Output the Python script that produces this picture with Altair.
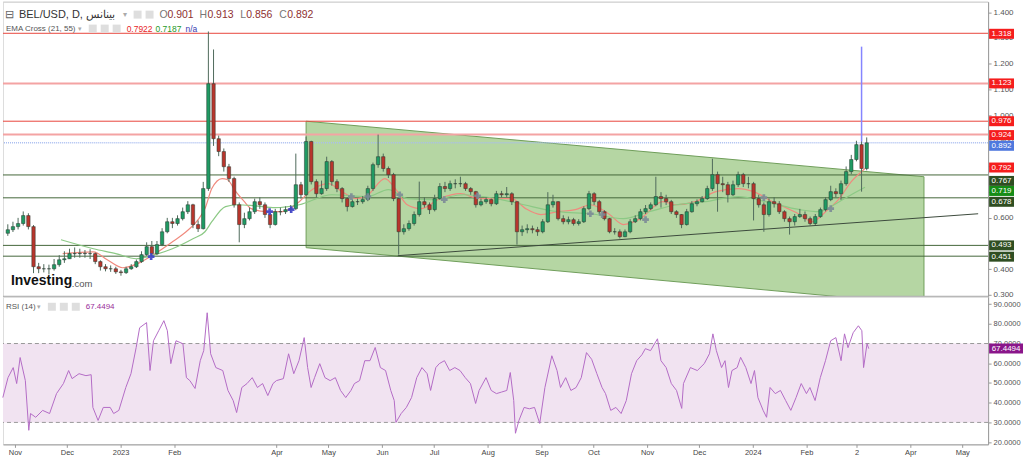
import altair as alt
import pandas as pd

FONT = "Liberation Sans"

# ---------------- data ----------------
# x positions are days counted from 2022-11-01; candles are 3-day bars
CANDLE_FIRST_DAY = -7
CANDLE_STEP_DAYS = 3
FIRST_OPEN = 0.540
closes = [0.554, 0.566, 0.578, 0.609, 0.566, 0.410, 0.402, 0.402, 0.402, 0.418,
          0.437, 0.441, 0.461, 0.461, 0.462, 0.461, 0.461, 0.430, 0.410, 0.402,
          0.402, 0.390, 0.387, 0.402, 0.410, 0.430, 0.457, 0.488, 0.461, 0.496,
          0.546, 0.585, 0.578, 0.597, 0.624, 0.651, 0.574, 0.558, 0.714, 1.122,
          0.908, 0.858, 0.799, 0.753, 0.651, 0.574, 0.597, 0.624, 0.663, 0.651,
          0.613, 0.574, 0.624, 0.624, 0.632, 0.636, 0.729, 0.690, 0.897, 0.741,
          0.694, 0.714, 0.819, 0.741, 0.714, 0.675, 0.644, 0.663, 0.663, 0.671,
          0.714, 0.807, 0.838, 0.792, 0.768, 0.675, 0.546, 0.558, 0.578, 0.613,
          0.663, 0.651, 0.632, 0.675, 0.722, 0.714, 0.733, 0.733, 0.733, 0.714,
          0.702, 0.651, 0.663, 0.671, 0.655, 0.694, 0.690, 0.694, 0.663, 0.546,
          0.554, 0.558, 0.554, 0.546, 0.585, 0.651, 0.663, 0.597, 0.585, 0.593,
          0.578, 0.585, 0.636, 0.694, 0.663, 0.624, 0.597, 0.546, 0.546, 0.527,
          0.546, 0.585, 0.597, 0.624, 0.636, 0.651, 0.683, 0.675, 0.663, 0.624,
          0.613, 0.574, 0.624, 0.655, 0.663, 0.675, 0.714, 0.768, 0.733, 0.729,
          0.690, 0.729, 0.768, 0.733, 0.733, 0.675, 0.651, 0.613, 0.663, 0.655,
          0.624, 0.597, 0.585, 0.605, 0.613, 0.597, 0.578, 0.605, 0.632, 0.671,
          0.702, 0.694, 0.733, 0.780, 0.827, 0.885, 0.792, 0.892]
highs = [0.575, 0.585, 0.600, 0.625, 0.618, 0.572, 0.425, 0.420, 0.418, 0.440,
         0.455, 0.470, 0.480, 0.485, 0.480, 0.475, 0.478, 0.465, 0.435, 0.420,
         0.415, 0.410, 0.398, 0.410, 0.420, 0.438, 0.470, 0.505, 0.510, 0.510,
         0.560, 0.600, 0.600, 0.610, 0.640, 0.665, 0.655, 0.590, 0.740, 1.325,
         1.255, 0.920, 0.870, 0.810, 0.760, 0.660, 0.620, 0.640, 0.675, 0.680,
         0.660, 0.620, 0.635, 0.640, 0.645, 0.650, 0.850, 0.740, 0.916, 0.900,
         0.750, 0.745, 0.838, 0.825, 0.750, 0.720, 0.680, 0.672, 0.675, 0.685,
         0.725, 0.815, 0.924, 0.850, 0.800, 0.775, 0.680, 0.575, 0.590, 0.625,
         0.741, 0.680, 0.660, 0.690, 0.735, 0.740, 0.745, 0.750, 0.760, 0.740,
         0.720, 0.705, 0.675, 0.680, 0.675, 0.705, 0.705, 0.720, 0.700, 0.665,
         0.570, 0.575, 0.570, 0.565, 0.595, 0.700, 0.690, 0.665, 0.610, 0.605,
         0.600, 0.595, 0.645, 0.705, 0.700, 0.670, 0.630, 0.600, 0.560, 0.555,
         0.555, 0.595, 0.610, 0.635, 0.650, 0.660, 0.760, 0.700, 0.690, 0.670,
         0.630, 0.615, 0.635, 0.665, 0.672, 0.685, 0.725, 0.830, 0.780, 0.760,
         0.740, 0.745, 0.780, 0.775, 0.760, 0.740, 0.690, 0.660, 0.675, 0.680,
         0.665, 0.630, 0.605, 0.615, 0.635, 0.625, 0.605, 0.615, 0.640, 0.680,
         0.725, 0.715, 0.745, 0.800, 0.845, 0.900, 0.935, 0.913]
lows = [0.530, 0.545, 0.555, 0.570, 0.555, 0.385, 0.385, 0.388, 0.380, 0.395,
        0.410, 0.425, 0.440, 0.445, 0.445, 0.445, 0.440, 0.420, 0.395, 0.392,
        0.390, 0.382, 0.375, 0.382, 0.398, 0.405, 0.425, 0.452, 0.450, 0.455,
        0.490, 0.540, 0.560, 0.570, 0.590, 0.615, 0.560, 0.545, 0.555, 0.705,
        0.880, 0.840, 0.780, 0.740, 0.640, 0.505, 0.560, 0.590, 0.615, 0.635,
        0.600, 0.560, 0.570, 0.610, 0.615, 0.620, 0.630, 0.675, 0.685, 0.730,
        0.680, 0.690, 0.705, 0.725, 0.700, 0.660, 0.625, 0.640, 0.650, 0.655,
        0.665, 0.705, 0.795, 0.780, 0.755, 0.665, 0.457, 0.535, 0.550, 0.570,
        0.605, 0.640, 0.615, 0.625, 0.670, 0.700, 0.705, 0.715, 0.720, 0.705,
        0.690, 0.640, 0.645, 0.655, 0.645, 0.650, 0.680, 0.680, 0.650, 0.496,
        0.530, 0.540, 0.540, 0.530, 0.540, 0.580, 0.640, 0.590, 0.575, 0.575,
        0.570, 0.570, 0.580, 0.630, 0.650, 0.615, 0.590, 0.540, 0.535, 0.520,
        0.525, 0.540, 0.580, 0.590, 0.615, 0.630, 0.645, 0.640, 0.650, 0.615,
        0.600, 0.560, 0.570, 0.620, 0.645, 0.660, 0.670, 0.705, 0.624, 0.700,
        0.660, 0.685, 0.720, 0.720, 0.715, 0.590, 0.640, 0.546, 0.605, 0.640,
        0.615, 0.585, 0.535, 0.570, 0.600, 0.585, 0.570, 0.572, 0.600, 0.625,
        0.665, 0.680, 0.670, 0.725, 0.770, 0.820, 0.702, 0.785]

ema21_day = [25, 43, 51, 60, 70, 78, 89, 97, 104, 108, 112, 118, 121, 126, 131, 135, 144, 153,
             163, 169, 180, 188, 196, 203, 213, 219, 226, 234, 245, 257, 268, 278, 287, 295,
             304, 314, 324, 333, 344, 352, 362, 375, 383, 394, 406, 419, 428, 439, 448, 455,
             462, 470, 478, 485, 491, 493]
ema21_val = [0.461, 0.468, 0.437, 0.406, 0.426, 0.457, 0.507, 0.546, 0.593, 0.636,
             0.714, 0.753, 0.749, 0.702, 0.663, 0.636, 0.624, 0.624, 0.663, 0.702,
             0.733, 0.702, 0.675, 0.690, 0.753, 0.714, 0.651, 0.636, 0.675, 0.694,
             0.675, 0.675, 0.675, 0.636, 0.613, 0.624, 0.632, 0.651, 0.613, 0.574,
             0.597, 0.663, 0.651, 0.663, 0.702, 0.714, 0.702, 0.663, 0.636, 0.613,
             0.585, 0.624, 0.675, 0.741, 0.780, 0.792]
ema55_day = [24, 43, 56, 68, 79, 89, 101, 108, 112, 120, 127, 137, 149, 163, 182, 203, 215,
             226, 240, 259, 278, 294, 314, 333, 352, 367, 383, 400, 419, 435, 455, 466, 478,
             485, 493]
ema55_val = [0.515, 0.480, 0.461, 0.441, 0.457, 0.480, 0.519, 0.546, 0.585, 0.644,
             0.651, 0.647, 0.640, 0.651, 0.690, 0.683, 0.710, 0.675, 0.671, 0.690,
             0.675, 0.651, 0.624, 0.616, 0.597, 0.624, 0.651, 0.663, 0.683, 0.663,
             0.632, 0.624, 0.663, 0.690, 0.719]

rsi_day = [-7, -4, -1, 1, 3, 6, 8, 9, 12, 16, 20, 24, 28, 31, 33, 37, 41, 44, 45, 48, 51, 55,
           57, 60, 64, 67, 70, 72, 76, 78, 80, 83, 86, 88, 90, 93, 97, 99, 101, 104, 107, 109,
           111, 113, 116, 120, 123, 126, 128, 131, 134, 137, 140, 143, 146, 149, 151, 155, 158,
           161, 164, 167, 169, 171, 173, 176, 179, 182, 185, 188, 191, 194, 196, 199, 202, 205,
           208, 211, 214, 217, 219, 220, 223, 226, 229, 232, 235, 238, 240, 243, 245, 248, 251,
           254, 257, 260, 263, 266, 268, 272, 275, 278, 281, 284, 286, 288, 289, 291, 294, 297,
           300, 303, 306, 310, 313, 315, 318, 321, 324, 327, 330, 333, 336, 339, 341, 344, 347,
           350, 353, 356, 359, 362, 364, 367, 371, 373, 376, 379, 382, 385, 386, 390, 394, 398,
           401, 403, 405, 408, 410, 412, 414, 417, 419, 422, 425, 427, 429, 432, 434, 436, 439,
           442, 445, 448, 451, 454, 457, 459, 462, 465, 468, 471, 474, 477, 479, 481, 484, 487,
           489, 490, 492, 493]
rsi_val = [42.6, 52.7, 57.8, 49.7, 62.9, 51.2, 26.0, 34.5, 32.6, 36.1, 34.5, 44.6, 49.7, 56.3,
           52.2, 54.7, 53.7, 54.2, 37.6, 31.0, 37.6, 37.6, 34.5, 36.1, 47.7, 54.7, 68.0, 78.0,
           80.6, 56.3, 71.4, 76.5, 81.6, 76.5, 59.8, 71.4, 69.9, 52.7, 51.2, 47.2, 61.3, 66.4,
           85.6, 64.8, 57.8, 56.3, 46.2, 41.1, 35.0, 47.7, 49.7, 52.7, 47.7, 49.7, 43.6, 49.7,
           51.2, 52.2, 64.8, 54.7, 61.3, 73.0, 57.8, 47.7, 52.7, 59.8, 52.7, 51.2, 52.7, 46.2,
           42.6, 46.2, 49.7, 51.2, 61.3, 61.3, 68.0, 57.8, 56.3, 46.2, 41.1, 30.0, 34.5, 37.6,
           42.6, 52.7, 57.8, 54.7, 46.2, 57.8, 59.8, 61.3, 56.3, 57.8, 56.3, 52.7, 49.7, 39.6,
           46.2, 52.7, 46.2, 44.6, 45.4, 46.2, 55.3, 41.1, 24.5, 31.0, 37.6, 36.9, 37.6, 29.5,
           47.7, 63.8, 56.3, 47.7, 52.7, 46.2, 47.7, 52.7, 65.4, 62.0, 54.7, 47.7, 44.6, 36.1,
           37.6, 34.5, 41.1, 54.7, 61.3, 64.3, 67.4, 66.4, 72.4, 61.3, 57.8, 49.7, 46.2, 37.1,
           49.7, 57.8, 56.3, 59.8, 64.8, 74.9, 66.4, 57.8, 61.3, 47.7, 56.3, 57.8, 63.0, 57.8,
           49.7, 56.3, 42.6, 36.1, 32.6, 47.7, 44.6, 46.2, 41.1, 36.1, 42.6, 49.7, 44.6, 47.7,
           41.1, 52.7, 61.3, 71.4, 73.0, 61.3, 74.9, 67.9, 75.5, 79.0, 76.5, 57.8, 69.9, 67.4]

red_levels = [1.318, 0.976]
pink_levels = [1.123, 0.924]
last_price_level = [0.892]
green_levels = [0.767, 0.678, 0.493, 0.451]

channel_day = [167.0, 527.4]
channel_top = [0.976, 0.760]
channel_bottom = [0.484, 0.263]
trend_day = [220.5, 559.0]
trend_val = [0.453, 0.616]
spike_day = [491]
spike_low = [0.897]
spike_high = [1.266]

cross_blue_day = [76.6, 145.7, 158.3]
cross_blue_val = [0.449, 0.624, 0.632]
cross_gray_day = [193.4, 203.0, 221.6, 247.6, 267.0, 332.8, 339.7, 365.0, 434.0, 473.0]
cross_gray_val = [0.683, 0.683, 0.690, 0.671, 0.686, 0.616, 0.613, 0.593, 0.679, 0.636]

tick_days = [0, 30, 61, 92, 151, 181, 212, 242, 273, 304, 334, 365, 395, 426, 457, 486, 517, 547]
tick_labels = ["Nov", "Dec", "2023", "Feb", "Apr", "May", "Jun", "Jul", "Aug", "Sep", "Oct",
               "Nov", "Dec", "2024", "Feb", "2", "Apr", "May"]
price_ticks = [0.3, 0.4, 0.5, 0.6, 0.7, 0.8, 0.9, 1.0, 1.1, 1.2, 1.3, 1.4]
rsi_ticks = [20, 30, 40, 50, 60, 70, 80, 90]

ohlc_last = [0.901, 0.913, 0.856, 0.892]
ema21_last = 0.7922
ema55_last = 0.7187
rsi_last = 67.4494

# ---------------- frames ----------------
n = len(closes)
candles = pd.DataFrame({
    "day": [CANDLE_FIRST_DAY + CANDLE_STEP_DAYS * i for i in range(n)],
    "open": [FIRST_OPEN] + closes[:-1],
    "close": closes, "high": highs, "low": lows,
})
ema21 = pd.DataFrame({"day": ema21_day, "v": ema21_val})
ema55 = pd.DataFrame({"day": ema55_day, "v": ema55_val})
rsi = pd.DataFrame({"day": rsi_day, "v": rsi_val})
channel = pd.DataFrame({"day": channel_day, "top": channel_top, "bot": channel_bottom})
trend = pd.DataFrame({"day": trend_day, "v": trend_val})

# ---------------- scales / axes ----------------
W, H1, H2 = 988, 296, 148
xs = alt.Scale(domain=[-6.9, 561.9], nice=False, zero=False)
ps = alt.Scale(domain=[0.293, 1.441], nice=False, zero=False)
rs = alt.Scale(domain=[18.87, 93.69], nice=False, zero=False)

price_axis = alt.Axis(orient="right", values=price_ticks, format=".3f", title=None, grid=False,
                      labelFontSize=8, labelColor="#555", labelFont=FONT, tickSize=3,
                      tickColor="#999", domainColor="#999", labelPadding=2,
                      labelOverlap=False, labelFlush=False, labelBound=False)
rsi_axis = alt.Axis(orient="right", values=rsi_ticks, format=".4f", title=None, grid=False,
                    labelFontSize=7.5, labelColor="#555", labelFont=FONT, tickSize=3,
                    tickColor="#999", domainColor="#999", labelPadding=2,
                    labelOverlap=False, labelFlush=False, labelBound=False)
expr = "''"
for d, l in reversed(list(zip(tick_days, tick_labels))):
    expr = f"datum.value == {d} ? '{l}' : ({expr})"
x_axis = alt.Axis(values=tick_days, labelExpr=expr, title=None, grid=False, labelFontSize=7.5,
                  labelColor="#444", labelFont=FONT, tickSize=3, tickColor="#999",
                  domainColor="#999", labelPadding=1, labelOverlap=False, labelFlush=False)

X = lambda f="day": alt.X(f, type="quantitative", scale=xs, axis=None)
PY = lambda f: alt.Y(f, type="quantitative", scale=ps, axis=price_axis)
PY2 = lambda f: alt.Y2(f)
RY = lambda f: alt.Y(f, type="quantitative", scale=rs, axis=rsi_axis)


def one(**kw):
    return alt.Chart(pd.DataFrame({k: [v] for k, v in kw.items()}))


def txt(s, x, y, size, color, weight="normal"):
    return one(t=s).mark_text(align="left", baseline="middle", fontSize=size, color=color,
                              fontWeight=weight, font=FONT).encode(
        x=alt.value(x), y=alt.value(y), text="t:N")


def icon(x, y, s=8):
    return one(a=0).mark_rect(color="#dedede").encode(
        x=alt.value(x), x2=alt.value(x + s), y=alt.value(y - s / 2), y2=alt.value(y + s / 2))


def level_box(v, color, dy, ychan, fmt, xc=1001.5, w=25):
    box = one(v=v).mark_tick(orient="horizontal", thickness=10, size=w, color=color, opacity=1,
                             yOffset=dy).encode(x=alt.value(xc), y=ychan("v"))
    t = one(v=v, t=format(v, fmt)).mark_text(color="white", fontSize=8, font=FONT, align="center",
                                             baseline="middle", yOffset=dy).encode(
        x=alt.value(xc), y=ychan("v"), text="t:N")
    return [box, t]


# ---------------- price panel ----------------
chan_area = alt.Chart(channel).mark_area(color="#a8cf93", opacity=0.85, clip=True).encode(
    x=X(), y=PY("top"), y2=PY2("bot"))
chan_top = alt.Chart(channel).mark_line(color="#6f9e5a", strokeWidth=1, clip=True).encode(
    x=X(), y=PY("top"))
chan_bot = alt.Chart(channel).mark_line(color="#6f9e5a", strokeWidth=1, clip=True).encode(
    x=X(), y=PY("bot"))
chan_sides = alt.Chart(channel).mark_rule(color="#6f9e5a", strokeWidth=1, clip=True).encode(
    x=X(), y=PY("top"), y2=PY2("bot"))

lv = lambda vals: pd.DataFrame({"v": vals})
red_l = alt.Chart(lv(red_levels)).mark_rule(color="#e8453c", strokeWidth=1).encode(y=PY("v"))
pink_l = alt.Chart(lv(pink_levels)).mark_rule(color="#f4a3a3", strokeWidth=2).encode(y=PY("v"))
blue_l = alt.Chart(lv(last_price_level)).mark_rule(color="#a9bdf0", strokeWidth=1.5,
                                                   strokeDash=[1, 1]).encode(y=PY("v"))
green_l = alt.Chart(lv(green_levels)).mark_rule(color="#44663a", strokeWidth=1).encode(y=PY("v"))
trend_l = alt.Chart(trend).mark_line(color="#3c4a3c", strokeWidth=1).encode(x=X(), y=PY("v"))

ema21_l = alt.Chart(ema21).mark_line(color="#f08a7e", strokeWidth=1.2,
                                     interpolate="monotone").encode(x=X(), y=PY("v"))
ema55_l = alt.Chart(ema55).mark_line(color="#8cc985", strokeWidth=1.2,
                                     interpolate="monotone").encode(x=X(), y=PY("v"))

wicks = alt.Chart(candles).mark_rule(color="#4f6a5b", strokeWidth=1).encode(
    x=X(), y=PY("low"), y2=PY2("high"))
bodies = alt.Chart(candles).mark_bar(size=3.4, stroke="#26352c", strokeWidth=0.5).encode(
    x=X(), y=PY("open"), y2=PY2("close"),
    color=alt.condition("datum.close >= datum.open", alt.value("#1f9a63"), alt.value("#b8352c")))

cross_b = alt.Chart(pd.DataFrame({"day": cross_blue_day, "v": cross_blue_val})).mark_point(
    shape="cross", filled=True, size=45, color="#3f43c9", opacity=0.9).encode(x=X(), y=PY("v"))
cross_g = alt.Chart(pd.DataFrame({"day": cross_gray_day, "v": cross_gray_val})).mark_point(
    shape="cross", filled=True, size=45, color="#7c8b97", opacity=0.9).encode(x=X(), y=PY("v"))

spike = alt.Chart(pd.DataFrame({"day": spike_day, "lo": spike_low, "hi": spike_high})).mark_rule(
    color="#8585ff", strokeWidth=1.5).encode(x=X(), y=PY("lo"), y2=PY2("hi"))

top_border = one(a=0).mark_rule(color="#d0d0d0").encode(
    x=alt.value(0), x2=alt.value(W), y=alt.value(0.5))
sep = one(a=0).mark_rule(color="#b0b0b0", strokeWidth=1.2).encode(
    x=alt.value(0), x2=alt.value(W), y=alt.value(H1 - 0.5))

o, h, l, c = ohlc_last
header = [
    txt("⊟", 2, 13, 11, "#666"),
    txt("BEL/USD, D, بينانس", 16, 13, 11, "#333"),
    txt("▾", 120, 13, 8, "#aaa"),
    icon(131, 13), icon(143, 13),
    txt("O", 157, 13, 10.5, "#777"), txt(format(o, ".3f"), 165, 13, 10.5, "#8e3131"),
    txt("H", 197, 13, 10.5, "#777"), txt(format(h, ".3f"), 205, 13, 10.5, "#8e3131"),
    txt("L", 238, 13, 10.5, "#777"), txt(format(l, ".3f"), 244, 13, 10.5, "#8e3131"),
    txt("C", 277, 13, 10.5, "#777"), txt(format(c, ".3f"), 285, 13, 10.5, "#8e3131"),
    txt("EMA Cross (21, 55)", 3, 27, 8, "#555"),
    txt("▾", 75, 27, 7, "#aaa"),
    icon(86, 27), icon(98, 27), icon(110, 27),
    txt(format(ema21_last, ".4f"), 124, 27, 8.5, "#e8261f"),
    txt(format(ema55_last, ".4f"), 153, 27, 8.5, "#279a27"),
    txt("n/a", 183, 27, 8.5, "#3b3bb0"),
    txt("Investing", 8, 280, 14, "#111", "bold"),
    txt(".com", 69, 283, 9.5, "#555"),
]

boxes = []
for v, col, dy in [(1.318, "#f51d1d", 0.5), (1.123, "#f51d1d", 0), (0.976, "#f51d1d", 0),
                   (0.924, "#f51d1d", 0.5), (0.892, "#4f78de", 3), (0.792, "#f51d1d", -1),
                   (0.767, "#2f4e22", 6), (0.719, "#168c16", 3.7), (0.678, "#2f4e22", 4),
                   (0.493, "#2f4e22", 0), (0.451, "#2f4e22", 0.5)]:
    boxes += level_box(v, col, dy, PY, ".3f")

price = alt.layer(
    chan_area, chan_top, chan_bot, chan_sides,
    red_l, pink_l, blue_l, green_l, trend_l,
    ema21_l, ema55_l, wicks, bodies, cross_b, cross_g, spike,
    top_border, sep, *header, *boxes
).properties(width=W, height=H1)

# ---------------- RSI panel ----------------
band = one(hi=70, lo=30).mark_rect(color="#f1e3f1").encode(y=RY("hi"), y2=alt.Y2("lo"))
band_l = alt.Chart(pd.DataFrame({"v": [70, 30]})).mark_rule(
    color="#999", strokeDash=[4, 3], strokeWidth=1).encode(y=RY("v"))
rsi_line = alt.Chart(rsi).mark_line(color="#b46cc6", strokeWidth=1).encode(
    x=alt.X("day:Q", scale=xs, axis=x_axis), y=RY("v"))
rsi_header = [
    txt("RSI (14)", 3, 10, 8, "#555"),
    txt("▾", 34, 10, 7, "#aaa"),
    icon(45, 10), icon(57, 10), icon(69, 10),
    txt(format(rsi_last, ".4f"), 83, 10, 8, "#9a2e9a"),
]
rsi_box = level_box(rsi_last, "#8a168a", 0, RY, ".4f", xc=1006, w=34)

rsi_chart = alt.layer(band, band_l, rsi_line, *rsi_header, *rsi_box).properties(
    width=W, height=H2)

chart = alt.vconcat(price, rsi_chart, spacing=0, bounds="flush").properties(
    padding=0, background="white"
).configure_view(stroke=None).configure(font=FONT)

chart.save("out.html", embed_options={"renderer": "svg", "actions": False})
